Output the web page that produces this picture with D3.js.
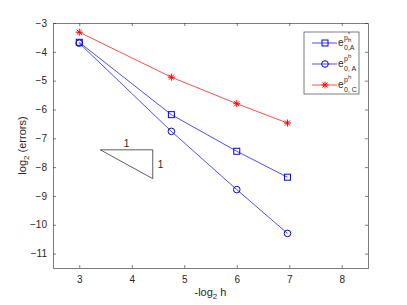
<!DOCTYPE html>
<html>
<head>
<meta charset="utf-8">
<script src="https://cdn.jsdelivr.net/npm/d3@7"></script>
<style>
body { margin: 0; background: #fff; }
text { font-family: "Liberation Sans", Arial, sans-serif; fill: #262626; }
</style>
</head>
<body>
<div id="chart"></div>
<script>
var width = 407;
var height = 305;

// data: x = -log2 h, y = log2(error)
var hValues = [3, 4.755, 6, 6.966];
var errStarA = [-3.67, -6.18, -7.45, -8.35];
var errA = [-3.70, -6.76, -8.78, -10.30];
var errC = [-3.32, -4.88, -5.80, -6.47];
var xTicks = [3, 4, 5, 6, 7, 8];
var yTicks = [-3, -4, -5, -6, -7, -8, -9, -10, -11];
var slopeTri = [[3.4, -7.4], [4.4, -7.4], [4.4, -8.4]];

var margin = {left: 53, top: 23, right: 39, bottom: 37};

var x = d3.scaleLinear().domain([2.5, 8.5]).range([margin.left, width - margin.right]);
var y = d3.scaleLinear().domain([-11.5, -3]).range([height - margin.bottom, margin.top]);

var svg = d3.select("#chart").append("svg")
    .attr("width", width)
    .attr("height", height);

// axes with inward ticks, box on all four sides
var axisColor = "#262626";

svg.append("g")
    .attr("transform", "translate(0," + y(-11.5) + ")")
    .call(d3.axisBottom(x).tickValues(xTicks).tickFormat(d3.format("d"))
        .tickSizeInner(-3).tickSizeOuter(0).tickPadding(8));
svg.append("g")
    .attr("transform", "translate(0," + y(-3) + ")")
    .call(d3.axisTop(x).tickValues(xTicks).tickSizeInner(-3).tickSizeOuter(0).tickFormat(""));
svg.append("g")
    .attr("transform", "translate(" + x(2.5) + ",0)")
    .call(d3.axisLeft(y).tickValues(yTicks).tickFormat(d3.format("d"))
        .tickSizeInner(-3).tickSizeOuter(0).tickPadding(6));
svg.append("g")
    .attr("transform", "translate(" + x(8.5) + ",0)")
    .call(d3.axisRight(y).tickValues(yTicks).tickSizeInner(-3).tickSizeOuter(0).tickFormat(""));

svg.selectAll(".domain, .tick line")
    .attr("stroke", axisColor)
    .attr("stroke-width", 0.6);
svg.selectAll(".tick text")
    .attr("font-size", "10px");

// axis labels
var xLab = svg.append("text")
    .attr("x", x(5.5))
    .attr("y", 296)
    .attr("text-anchor", "middle")
    .attr("font-size", "11px");
xLab.append("tspan").text("-log");
xLab.append("tspan").attr("dy", 3).attr("font-size", "8px").text("2");
xLab.append("tspan").attr("dy", -3).text(" h");

var yLab = svg.append("text")
    .attr("transform", "translate(26," + y(-7.25) + ") rotate(-90)")
    .attr("text-anchor", "middle")
    .attr("font-size", "11px");
yLab.append("tspan").text("log");
yLab.append("tspan").attr("dy", 3).attr("font-size", "8px").text("2");
yLab.append("tspan").attr("dy", -3).text(" (errors)");

// series
var line = d3.line()
    .x(function(d) { return x(d[0]); })
    .y(function(d) { return y(d[1]); });

function pairs(vals) {
    return hValues.map(function(h, i) { return [h, vals[i]]; });
}

var series = [
    {vals: errStarA, color: "#0000ff", marker: "square"},
    {vals: errA, color: "#0000ff", marker: "circle"},
    {vals: errC, color: "#ff0000", marker: "star"}
];

function drawMarker(g, type, color, cx, cy) {
    if (type === "square") {
        g.append("rect")
            .attr("x", cx - 3).attr("y", cy - 3)
            .attr("width", 6).attr("height", 6)
            .attr("fill", "none").attr("stroke", color).attr("stroke-width", 1);
    } else if (type === "circle") {
        g.append("circle")
            .attr("cx", cx).attr("cy", cy).attr("r", 3.3)
            .attr("fill", "none").attr("stroke", color).attr("stroke-width", 1);
    } else {
        var r = 3.5;
        var d = "M" + (cx - r) + "," + cy + "H" + (cx + r)
            + "M" + cx + "," + (cy - r) + "V" + (cy + r)
            + "M" + (cx - r * 0.72) + "," + (cy - r * 0.72) + "L" + (cx + r * 0.72) + "," + (cy + r * 0.72)
            + "M" + (cx - r * 0.72) + "," + (cy + r * 0.72) + "L" + (cx + r * 0.72) + "," + (cy - r * 0.72);
        g.append("path").attr("d", d)
            .attr("fill", "none").attr("stroke", color).attr("stroke-width", 1);
    }
}

series.forEach(function(s) {
    var pts = pairs(s.vals);
    svg.append("path")
        .datum(pts)
        .attr("d", line)
        .attr("fill", "none")
        .attr("stroke", s.color)
        .attr("stroke-width", 0.7);
    var g = svg.append("g");
    pts.forEach(function(p) {
        drawMarker(g, s.marker, s.color, x(p[0]), y(p[1]));
    });
});

// slope triangle
svg.append("path")
    .datum(slopeTri)
    .attr("d", function(d) { return line(d) + "Z"; })
    .attr("fill", "none")
    .attr("stroke", "#333")
    .attr("stroke-width", 0.8);
svg.append("text")
    .attr("x", x((slopeTri[0][0] + slopeTri[1][0]) / 2))
    .attr("y", y(slopeTri[0][1]) - 3)
    .attr("text-anchor", "middle")
    .attr("font-size", "10px")
    .text("1");
svg.append("text")
    .attr("x", x(slopeTri[1][0]) + 5)
    .attr("y", y((slopeTri[1][1] + slopeTri[2][1]) / 2) + 4)
    .attr("font-size", "10px")
    .text("1");

// legend
var legend = svg.append("g");
legend.append("rect")
    .attr("x", 304).attr("y", 32)
    .attr("width", 55).attr("height", 62)
    .attr("fill", "#fff")
    .attr("stroke", axisColor)
    .attr("stroke-width", 0.6);

var legendSub = ["0,A", "0, A", "0, C"];
series.forEach(function(s, i) {
    var ly = 43 + i * 21;
    legend.append("line")
        .attr("x1", 312).attr("x2", 337)
        .attr("y1", ly).attr("y2", ly)
        .attr("stroke", s.color).attr("stroke-width", 0.7);
    drawMarker(legend, s.marker, s.color, 325, ly);
    legend.append("text")
        .attr("x", 338).attr("y", ly + 3)
        .attr("font-size", "10px")
        .text("e");
    legend.append("text").attr("x", 344).attr("y", ly - 3).attr("font-size", "7px").text("p");
    legend.append("text").attr("x", 344).attr("y", ly + 7).attr("font-size", "7px").text(legendSub[i]);
    if (i === 0) {
        legend.append("text").attr("x", 348).attr("y", ly - 1).attr("font-size", "6px").text("h");
        legend.append("text").attr("x", 348).attr("y", ly - 7).attr("font-size", "5px").text("*");
    } else {
        legend.append("text").attr("x", 348).attr("y", ly - 6).attr("font-size", "6px").text("h");
    }
});
</script>
</body>
</html>
